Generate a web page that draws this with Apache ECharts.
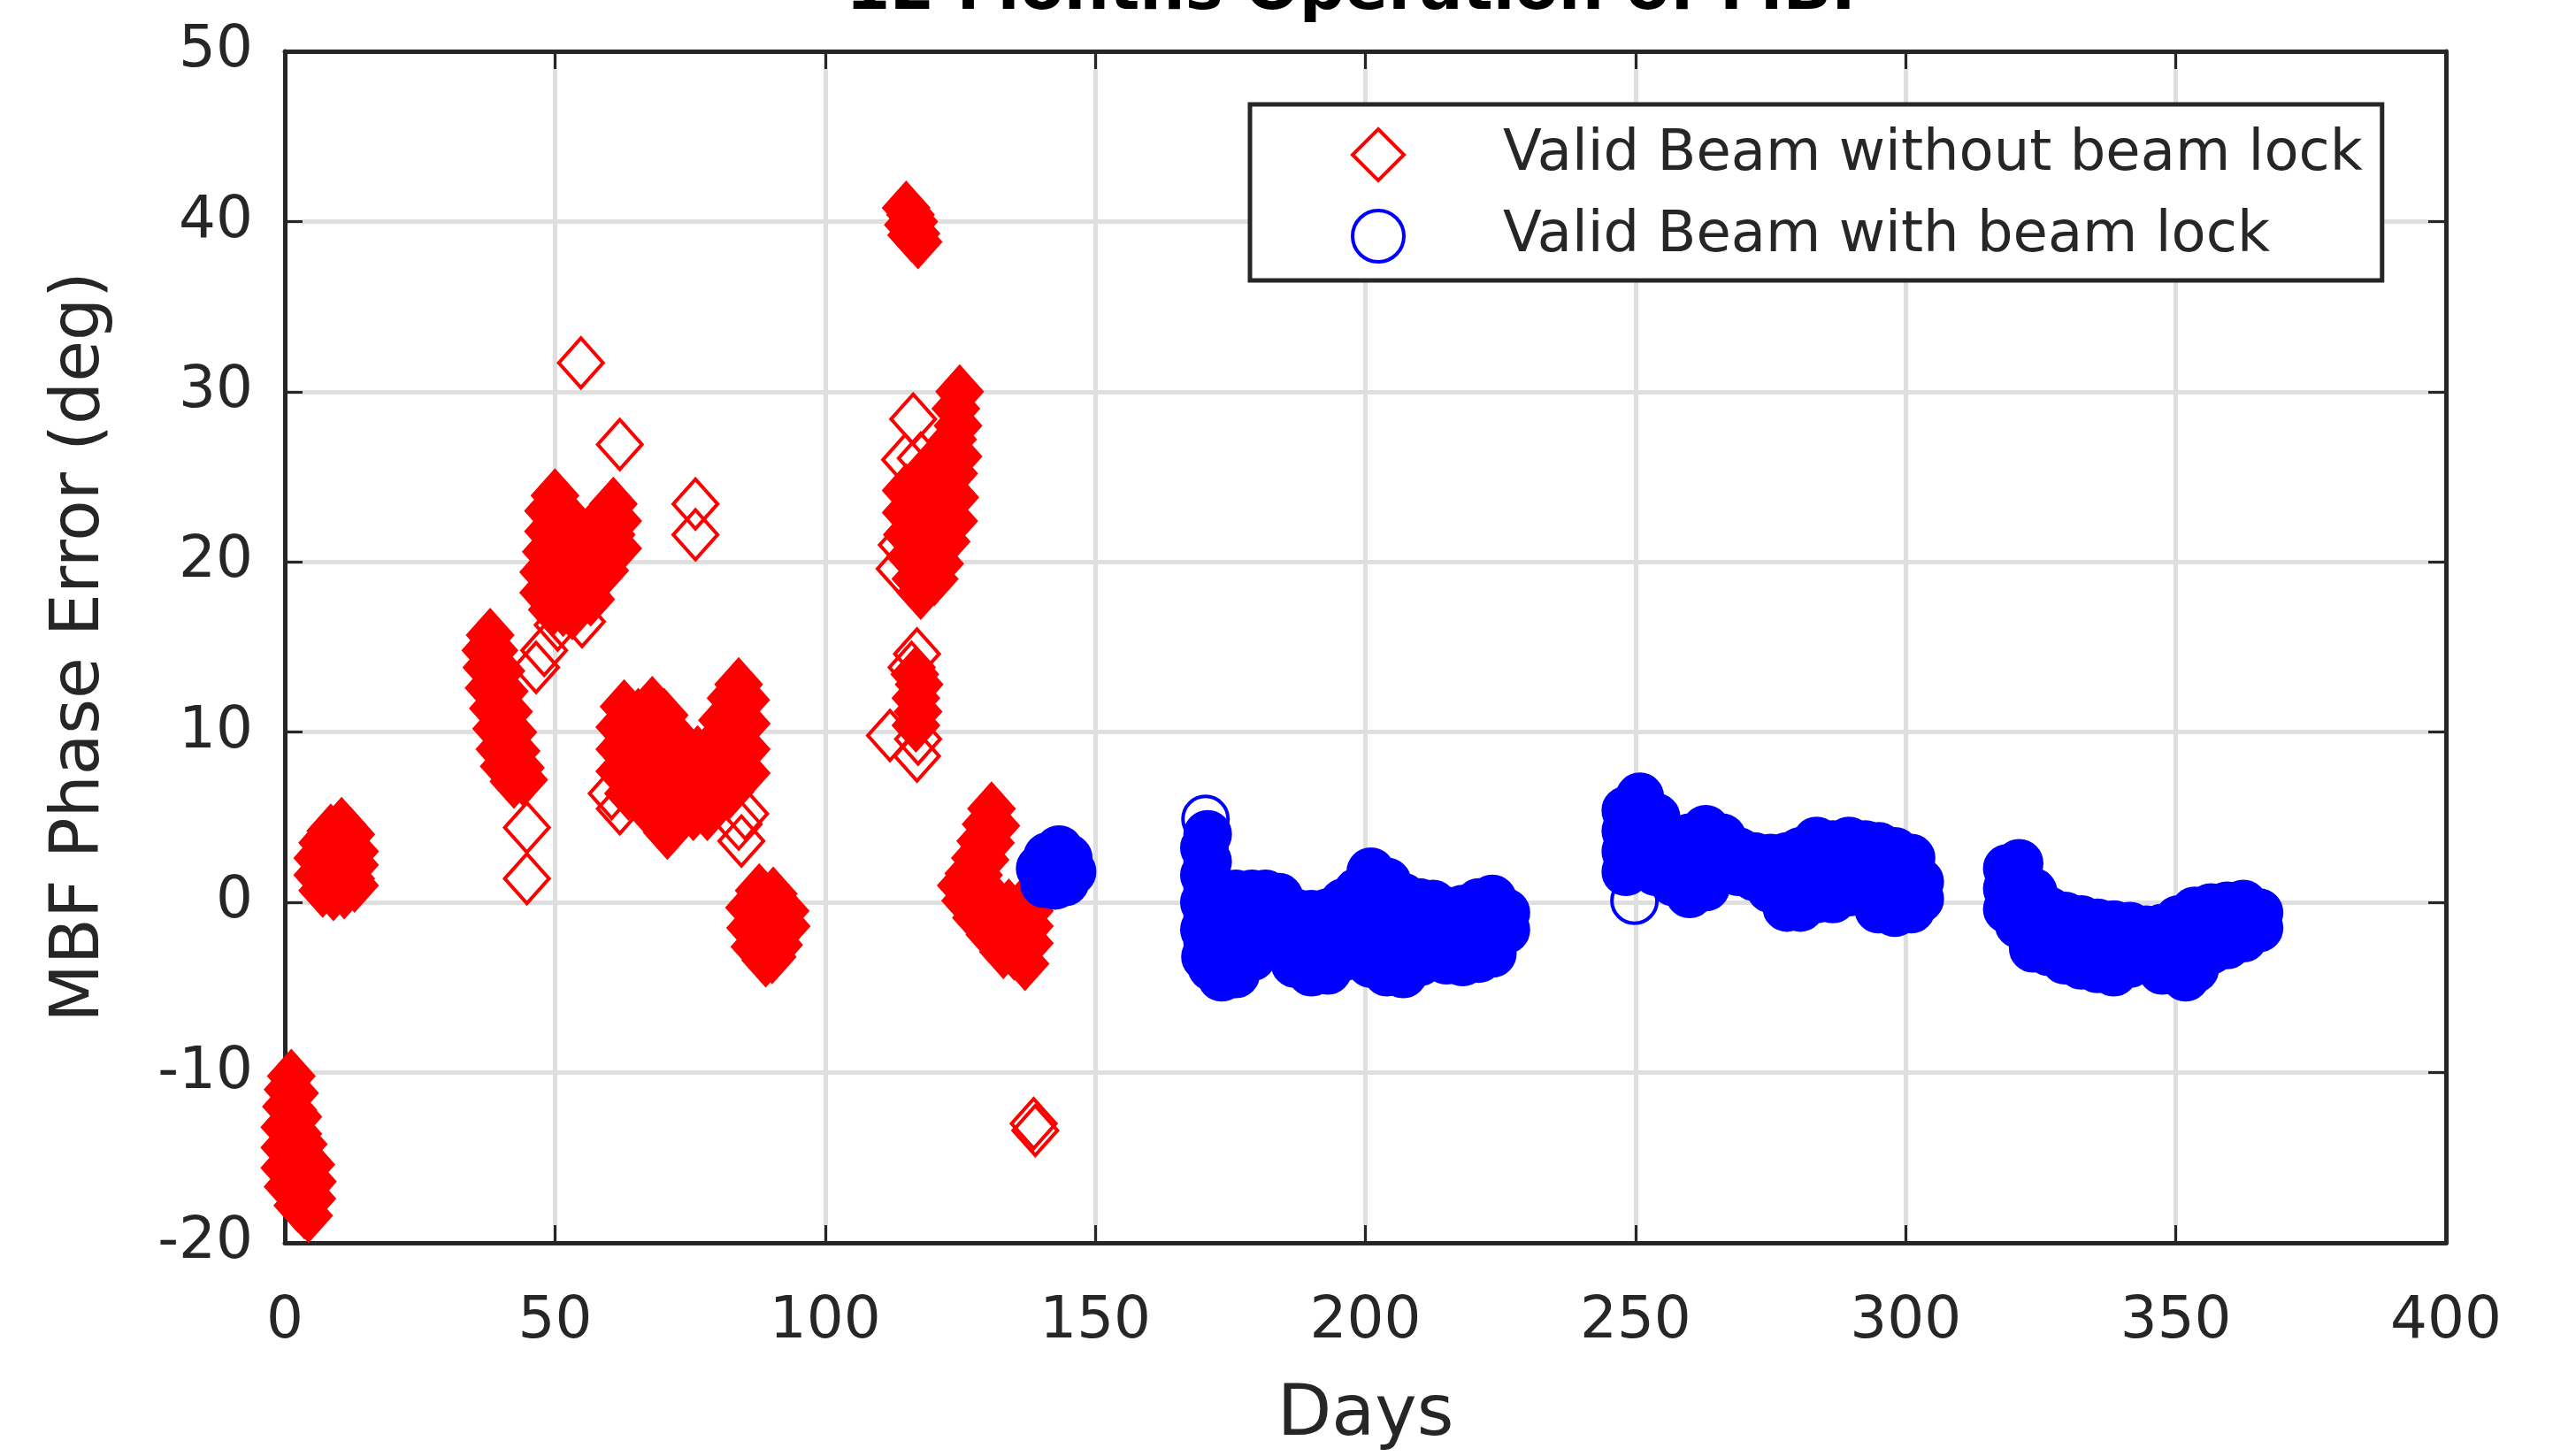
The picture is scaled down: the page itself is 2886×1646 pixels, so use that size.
<!DOCTYPE html>
<html>
<head>
<meta charset="utf-8">
<title>12 Months Operation of MBF</title>
<script src="https://cdn.jsdelivr.net/npm/echarts@6/dist/echarts.min.js"></script>
<style>
  html, body { margin: 0; padding: 0; background: #fff; }
  #chart { width: 2886px; height: 1646px; }
</style>
</head>
<body>
<div id="chart"></div>
<script>
// [day, phase error in deg]

// red: valid beam without beam lock (dense clusters, drawn solid)
const redStart = [
  [1.2, -10.2], [0.6, -11.0], [1.8, -11.2], [0.3, -12.0], [1.5, -12.2], [2.4, -12.6],
  [0.0, -13.2], [1.2, -13.3], [2.4, -13.6], [3.4, -14.2],
  [0.0, -14.4], [1.2, -14.5], [2.4, -14.7], [3.6, -15.0], [4.8, -15.4],
  [0.0, -15.6], [1.2, -15.8], [2.4, -15.9], [3.6, -16.1], [5.1, -16.4],
  [0.6, -16.7], [1.8, -17.0], [3.0, -17.0], [4.2, -17.2], [5.0, -17.4],
  [2.4, -17.8], [3.6, -18.2], [4.4, -18.4]
]
const redPlateau = [
  [10.5, 4.6], [8.5, 4.2], [12.2, 4.0],
  [7.0, 3.5], [9.5, 3.4], [11.8, 3.3], [12.9, 3.0],
  [6.1, 2.6], [8.3, 2.5], [10.5, 2.5], [12.9, 2.2],
  [6.1, 1.6], [7.8, 1.5], [10.0, 1.4], [12.2, 1.4],
  [7.0, 0.7], [9.0, 0.5], [11.0, 0.6], [12.9, 1.0]
]
const redRise = [
  [38.0, 15.7], [37.2, 14.8], [38.7, 14.8],
  [37.4, 13.8], [38.8, 13.7], [40.0, 13.6],
  [37.8, 12.6], [39.2, 12.5], [40.6, 12.4],
  [38.6, 11.4], [40.0, 11.3], [41.4, 11.2],
  [39.2, 10.2], [40.7, 10.1], [42.2, 10.0],
  [39.8, 9.0], [41.3, 9.0], [42.8, 8.9],
  [40.6, 8.0], [42.1, 7.9], [43.6, 7.9],
  [42.4, 7.1], [44.2, 7.2]
]
const redHeart = [
  [50.0, 23.9], [48.8, 23.0], [51.4, 23.0], [60.8, 23.4], [59.2, 22.8], [61.6, 22.4],
  [48.8, 21.8], [50.6, 21.9], [52.6, 21.8], [54.6, 21.7], [56.6, 21.8], [58.4, 21.9], [60.4, 21.6],
  [48.4, 20.6], [50.3, 20.6], [52.2, 20.5], [54.2, 20.5], [56.2, 20.6], [58.2, 20.6], [60.2, 20.6], [61.6, 20.8],
  [47.9, 19.4], [49.8, 19.4], [51.8, 19.3], [53.8, 19.3], [55.8, 19.4], [57.8, 19.6], [59.2, 19.5],
  [47.9, 18.2], [49.8, 18.1], [51.8, 18.1], [53.8, 18.0], [55.8, 18.1], [56.6, 17.8],
  [49.5, 17.2], [51.5, 17.2], [53.2, 17.0]
]
const redTwinLobes = [
  [62.8, 11.5], [65.4, 11.0], [68.0, 11.7], [70.2, 11.0],
  [84.0, 12.8], [82.6, 12.0], [85.3, 11.9],
  [62.0, 10.3], [64.4, 10.2], [66.8, 10.3], [69.2, 10.3], [71.6, 10.0], [81.0, 10.7], [83.4, 10.8], [85.4, 10.5],
  [62.0, 9.0], [64.4, 9.0], [66.8, 9.0], [69.2, 9.0], [71.6, 9.0], [74.0, 8.8], [76.4, 8.8], [78.8, 9.1], [81.2, 9.2], [83.6, 9.2], [85.4, 9.0],
  [62.0, 7.7], [64.4, 7.6], [66.8, 7.6], [69.2, 7.6], [71.6, 7.6], [74.0, 7.6], [76.4, 7.6], [78.8, 7.7], [81.2, 7.8], [83.6, 7.8], [85.4, 7.6],
  [63.6, 6.4], [66.0, 6.3], [68.4, 6.3], [70.8, 6.3], [73.2, 6.4], [75.6, 6.4], [78.0, 6.4], [80.4, 6.5], [82.4, 6.5],
  [68.2, 5.1], [70.6, 5.0], [72.8, 5.1], [75.6, 5.2], [78.2, 5.2],
  [70.8, 4.1]
]
const redDip = [
  [87.8, 0.7], [90.4, 0.5],
  [86.0, -0.3], [88.2, -0.4], [90.6, -0.4], [92.6, -0.5],
  [86.2, -1.5], [88.4, -1.6], [90.6, -1.6], [92.8, -1.4],
  [87.0, -2.6], [89.2, -2.7], [91.4, -2.5],
  [89.0, -3.4], [90.2, -3.2]
]
const redSurge = [
  [124.9, 30.0], [124.2, 29.0], [124.6, 28.0], [123.6, 27.2], [124.6, 26.2], [122.6, 26.4],
  [123.8, 25.2], [121.0, 25.4], [119.4, 25.6],
  [115.0, 24.2], [116.8, 24.4], [118.6, 24.2], [120.4, 24.0], [122.2, 24.0], [124.0, 23.8],
  [115.0, 22.9], [116.8, 23.0], [118.6, 22.9], [120.4, 22.8], [122.2, 22.7], [123.8, 22.4],
  [115.2, 21.6], [117.0, 21.6], [118.8, 21.5], [120.6, 21.4], [122.4, 21.2],
  [115.8, 20.3], [117.6, 20.2], [119.4, 20.1], [121.2, 19.9],
  [116.8, 19.0], [118.6, 18.8], [120.2, 19.0], [117.7, 18.2]
]
const redColumn = [[116.6, 13.4], [117.4, 12.8], [116.8, 12.0], [117.2, 11.2], [116.8, 10.4]]
const redPeak = [[115.0, 40.8], [115.8, 40.4], [116.4, 40.0], [115.4, 39.8], [116.8, 39.3], [117.2, 38.8], [116.0, 39.2]]
const redLast = [
  [130.8, 5.5], [129.8, 4.6], [131.6, 4.5], [128.8, 3.6], [130.6, 3.5], [127.8, 2.6], [129.6, 2.5],
  [126.6, 1.7], [128.4, 1.6], [125.2, 1.0], [127.2, 0.8],
  [126.0, 0.1], [128.0, 0.1], [130.0, 0.0], [132.0, -0.1], [134.0, -0.2], [136.0, -0.3], [137.8, -0.5],
  [128.0, -0.9], [130.0, -1.0], [132.0, -1.1], [134.0, -1.2], [136.0, -1.3], [137.8, -1.4],
  [130.5, -1.9], [132.5, -2.1], [134.5, -2.2], [136.5, -2.3], [137.8, -2.4],
  [133.0, -2.9], [135.0, -3.0], [137.0, -3.6]
]
// red points standing on their own (drawn as open diamonds)
const redIsolated = [
  [54.8, 31.7], [62.0, 26.9], [76.0, 23.4], [76.0, 21.6], [55.0, 16.5], [50.5, 16.3],
  [46.5, 13.8], [48.0, 14.8], [44.8, 4.4], [44.8, 1.4],
  [60.5, 6.4], [62.0, 5.5], [84.0, 4.6], [84.5, 3.6], [85.2, 5.2],
  [116.3, 28.4], [114.8, 26.0], [117.7, 26.1], [113.8, 19.6], [114.2, 21.0],
  [117.0, 14.6], [116.0, 13.8], [117.2, 9.6], [117.0, 8.6], [112.0, 9.8],
  [138.6, -13.0], [138.9, -13.4]
]

// blue: valid beam with beam lock
const blueFirst = [
  [143.3, 3.1], [141.2, 2.7], [145.0, 2.6], [139.8, 2.0], [142.0, 2.0], [144.2, 1.9], [145.7, 1.8],
  [140.6, 1.1], [142.6, 1.0], [144.4, 1.2]
]
const blueSecond = [
  [170.8, 4.0], [170.2, 3.2], [170.8, 2.4], [170.2, 1.6], [170.8, 0.8], [170.2, 0.0], [170.8, -0.8],
  [170.2, -1.6], [170.8, -2.4], [170.4, -3.2], [171.6, -3.8],
  [173.4, -4.4], [173.4, -3.2], [173.4, -2.0], [173.4, -0.8], [173.4, 0.3],
  [176.0, -4.2], [176.0, -3.0], [176.0, -1.8], [176.0, -0.6], [176.0, 0.5],
  [179.0, -3.2], [179.0, -2.0], [179.0, -0.8], [179.0, 0.5],
  [181.5, -1.5], [181.5, -0.4], [181.5, 0.5],
  [184.0, -2.6], [184.0, -1.5], [184.0, -0.4], [184.0, 0.3],
  [187.0, -3.6], [187.0, -2.4], [187.0, -1.4], [187.0, -0.6],
  [190.0, -4.1], [190.0, -2.9], [190.0, -1.8], [190.0, -0.7],
  [193.0, -4.0], [193.0, -2.9], [193.0, -1.8], [193.0, -0.6],
  [196.0, -3.2], [196.0, -2.1], [196.0, -1.0], [196.0, 0.0],
  [198.5, -2.9], [198.5, -1.8], [198.5, -0.6], [198.5, 0.6],
  [201.0, -3.6], [201.0, -2.4], [201.0, -1.2], [201.0, 0.0], [201.0, 1.1], [201.0, 1.8],
  [204.0, -4.1], [204.0, -2.9], [204.0, -1.7], [204.0, -0.5], [204.0, 0.6], [204.0, 1.2],
  [207.0, -4.2], [207.0, -3.0], [207.0, -1.8], [207.0, -0.6], [207.0, 0.3],
  [210.0, -3.5], [210.0, -2.4], [210.0, -1.2], [210.0, 0.0],
  [212.5, -3.0], [212.5, -1.9], [212.5, -0.8], [212.5, -0.1],
  [215.0, -3.4], [215.0, -2.3], [215.0, -1.2], [215.0, -0.5],
  [218.0, -3.5], [218.0, -2.4], [218.0, -1.3], [218.0, -0.4],
  [221.0, -3.3], [221.0, -2.2], [221.0, -1.1], [221.0, 0.0],
  [223.5, -3.0], [223.5, -1.9], [223.5, -0.8], [223.5, 0.2],
  [226.0, -1.6], [226.0, -0.6]
]
const blueThird = [
  [248.2, 1.8], [248.2, 3.0], [248.2, 4.2], [248.2, 5.4],
  [250.8, 2.4], [250.8, 3.6], [250.8, 4.8], [250.8, 6.2],
  [253.8, 1.8], [253.8, 3.0], [253.8, 4.2], [253.8, 5.0],
  [257.0, 1.2], [257.0, 2.4], [257.0, 3.5],
  [260.0, 0.5], [260.0, 1.7], [260.0, 2.9], [260.0, 3.8],
  [263.0, 0.9], [263.0, 2.1], [263.0, 3.3], [263.0, 4.3],
  [266.0, 2.0], [266.0, 3.0], [266.0, 3.8],
  [269.0, 1.8], [269.0, 3.0],
  [272.0, 1.5], [272.0, 2.7],
  [275.0, 0.8], [275.0, 2.0], [275.0, 2.6],
  [278.0, -0.3], [278.0, 0.9], [278.0, 2.1], [278.0, 2.7],
  [280.5, -0.3], [280.5, 0.9], [280.5, 2.0], [280.5, 3.0],
  [283.5, 0.2], [283.5, 1.4], [283.5, 2.6], [283.5, 3.6],
  [286.5, 0.2], [286.5, 1.4], [286.5, 2.6], [286.5, 3.4],
  [289.5, 0.6], [289.5, 1.8], [289.5, 3.0], [289.5, 3.6],
  [292.5, 2.0], [292.5, 3.4],
  [295.0, -0.4], [295.0, 0.8], [295.0, 2.0], [295.0, 3.3],
  [298.0, -0.6], [298.0, 0.6], [298.0, 1.8], [298.0, 3.0],
  [301.0, -0.4], [301.0, 0.8], [301.0, 2.0], [301.0, 2.6],
  [302.6, 0.2], [302.6, 1.2]
]
const blueFourth = [
  [318.8, 2.0], [318.8, 0.8], [318.8, -0.4],
  [321.0, 2.3], [321.0, 1.1], [321.0, -0.1], [321.0, -1.3],
  [323.6, 0.6], [323.6, -0.6], [323.6, -1.6], [323.6, -2.7],
  [326.5, -0.5], [326.5, -1.6], [326.5, -2.9],
  [329.5, -0.8], [329.5, -2.0], [329.5, -3.4],
  [332.5, -1.0], [332.5, -2.3], [332.5, -3.7],
  [335.5, -1.2], [335.5, -2.5], [335.5, -3.9],
  [338.5, -1.3], [338.5, -2.6], [338.5, -4.1],
  [341.5, -1.4], [341.5, -2.5], [341.5, -3.6],
  [344.5, -1.6], [344.5, -2.5], [344.5, -3.4],
  [347.5, -1.5], [347.5, -2.7], [347.5, -4.0],
  [350.5, -1.0], [350.5, -2.3], [350.5, -3.6], [351.8, -4.4],
  [353.5, -0.5], [353.5, -1.7], [353.5, -2.9], [353.5, -3.9],
  [356.5, -0.3], [356.5, -1.5], [356.5, -2.8],
  [359.5, -0.2], [359.5, -1.4], [359.5, -2.5],
  [362.5, -0.1], [362.5, -1.2], [362.5, -2.1],
  [365.4, -0.6], [365.4, -1.5]
]
const blueIsolated = [[170.4, 4.9], [249.8, 0.1]]

const seriesNames = ['Valid Beam without beam lock', 'Valid Beam with beam lock']

const RED = '#ff0000'
const BLUE = '#0000ff'
const AXIS = '#262626'
const FONT = 'DejaVu Sans'

// solid where the open markers pile up, open where they stand alone
const solid = (pts, color) => pts.map(p => ({ value: p, itemStyle: { color } }))
const open = pts => pts.map(p => ({ value: p }))

const redData = [
  ...solid([].concat(redStart, redPlateau, redRise, redHeart, redTwinLobes, redDip,
    redSurge, redColumn, redPeak, redLast), RED),
  ...open(redIsolated)
]
const blueData = [
  ...solid([].concat(blueFirst, blueSecond, blueThird, blueFourth), BLUE),
  ...open(blueIsolated)
]

const chart = echarts.init(document.getElementById('chart'))

const tickStyle = { show: true, inside: true, length: 20, lineStyle: { color: AXIS, width: 3 } }
const lineStyle = { show: true, onZero: false, lineStyle: { color: AXIS, width: 5 } }
const labelStyle = { color: AXIS, fontSize: 66, fontFamily: FONT }

const option = {
  animation: false,
  backgroundColor: '#fff',
  textStyle: { fontFamily: FONT },
  title: {
    text: '12 Months Operation of MBF',
    left: 1538,
    top: -45,
    padding: 0,
    textAlign: 'center',
    textStyle: { fontSize: 72, fontWeight: 'bold', fontFamily: FONT, color: '#000' }
  },
  grid: { left: 322, right: 121, top: 58, bottom: 235 },
  legend: {
    orient: 'vertical',
    left: 1413,
    top: 118,
    padding: [25, 22, 18, 114],
    itemWidth: 58,
    itemHeight: 58,
    itemGap: 28,
    selectedMode: false,
    backgroundColor: '#fff',
    borderColor: AXIS,
    borderWidth: 5,
    itemStyle: { borderWidth: 4 },
    textStyle: { fontSize: 64, fontFamily: FONT, color: AXIS, padding: [0, 0, 0, 107] },
    data: [
      { name: seriesNames[0], icon: 'diamond' },
      { name: seriesNames[1], icon: 'circle' }
    ]
  },
  xAxis: [
    {
      type: 'value', position: 'bottom', min: 0, max: 400, interval: 50,
      name: 'Days', nameLocation: 'middle', nameGap: 156,
      nameTextStyle: { fontSize: 80, fontFamily: FONT, color: AXIS },
      axisLine: lineStyle, axisTick: tickStyle,
      axisLabel: { ...labelStyle, margin: 57 },
      splitLine: { show: true, lineStyle: { color: '#dfdfdf', width: 5 } }
    },
    {
      type: 'value', position: 'top', min: 0, max: 400, interval: 50,
      axisLine: lineStyle, axisTick: tickStyle,
      axisLabel: { show: false }, splitLine: { show: false }
    }
  ],
  yAxis: [
    {
      type: 'value', position: 'left', min: -20, max: 50, interval: 10,
      name: 'MBF Phase Error (deg)', nameLocation: 'middle', nameGap: 193,
      nameTextStyle: { fontSize: 76, fontFamily: FONT, color: AXIS },
      axisLine: lineStyle, axisTick: tickStyle,
      axisLabel: { ...labelStyle, margin: 36 },
      splitLine: { show: true, lineStyle: { color: '#dfdfdf', width: 5 } }
    },
    {
      type: 'value', position: 'right', min: -20, max: 50, interval: 10,
      axisLine: lineStyle, axisTick: tickStyle,
      axisLabel: { show: false }, splitLine: { show: false }
    }
  ],
  series: [
    {
      name: seriesNames[0],
      type: 'scatter',
      symbol: 'diamond',
      symbolSize: [50, 56],
      clip: false,
      itemStyle: { color: 'rgba(255,255,255,0)', borderColor: RED, borderWidth: 4, opacity: 1 },
      data: redData
    },
    {
      name: seriesNames[1],
      type: 'scatter',
      symbol: 'circle',
      symbolSize: 51,
      clip: false,
      itemStyle: { color: 'rgba(255,255,255,0)', borderColor: BLUE, borderWidth: 4, opacity: 1 },
      data: blueData
    }
  ]
}

chart.setOption(option)
</script>
</body>
</html>
